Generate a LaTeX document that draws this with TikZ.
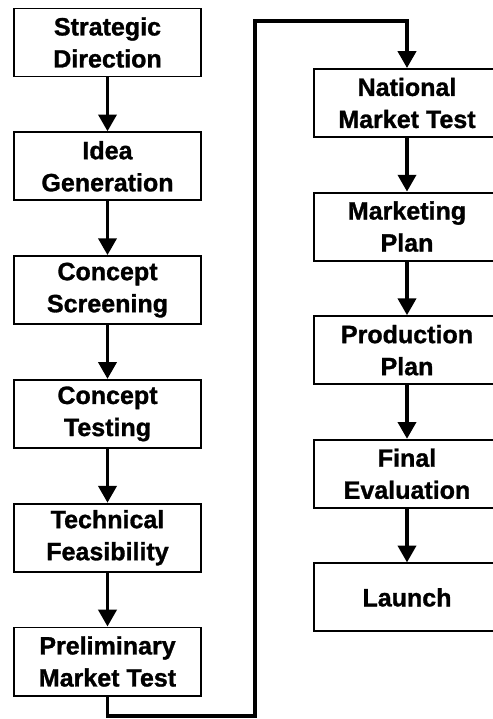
\documentclass[tikz,border=0pt]{standalone}
\usepackage{fontspec}
\setmainfont{Liberation Sans}
\newfontfamily\stagefont[FakeBold=1.2]{Liberation Sans Bold}
\usetikzlibrary{arrows.meta}

\tikzset{
	stage/.style={draw, line width=1.4pt, minimum width=4.65cm, minimum height=1.7cm,
		align=center, inner sep=0pt, font=\fontsize{17.8}{22.8}\selectfont\stagefont},
	flow/.style={line width=2.6pt, -{Triangle[length=0.42cm, width=0.45cm]}}
}

\begin{document}
\begin{tikzpicture}[x=0.025cm, y=-0.025cm]

% Page frame
\useasboundingbox (0,0) rectangle (493,719);
\clip (0,0) rectangle (493,719);

% Left column
\node[stage] (strategic) at (107.5,42.5) {Strategic\\Direction};
\node[stage] (idea) at (107.5,166.3) {Idea\\Generation};
\node[stage] (screening) at (107.5,290.1) {Concept\\Screening};
\node[stage] (testing) at (107.5,413.9) {Concept\\Testing};
\node[stage] (feasibility) at (107.5,537.7) {Technical\\Feasibility};
\node[stage] (premarket) at (107.5,661.5) {Preliminary\\Market Test};

% Right column
\node[stage] (national) at (407,103) {National\\Market Test};
\node[stage] (marketing) at (407,226.6) {Marketing\\Plan};
\node[stage] (production) at (407,350.2) {Production\\Plan};
\node[stage] (evaluation) at (407,473.8) {Final\\Evaluation};
\node[stage] (launch) at (407,597.4) {Launch};

% Arrows down each column
\foreach \a/\b in {strategic/idea, idea/screening, screening/testing,
	testing/feasibility, feasibility/premarket,
	national/marketing, marketing/production, production/evaluation,
	evaluation/launch} {
	\draw[flow] (\a) -- (\b);
}

% Loop from the left column to the right one
\coordinate (loopbot) at (255,716);
\coordinate (looptop) at (255,21);
\draw[flow] (premarket.south) |- (loopbot) -- (looptop) -| (national.north);

\end{tikzpicture}
\end{document}
